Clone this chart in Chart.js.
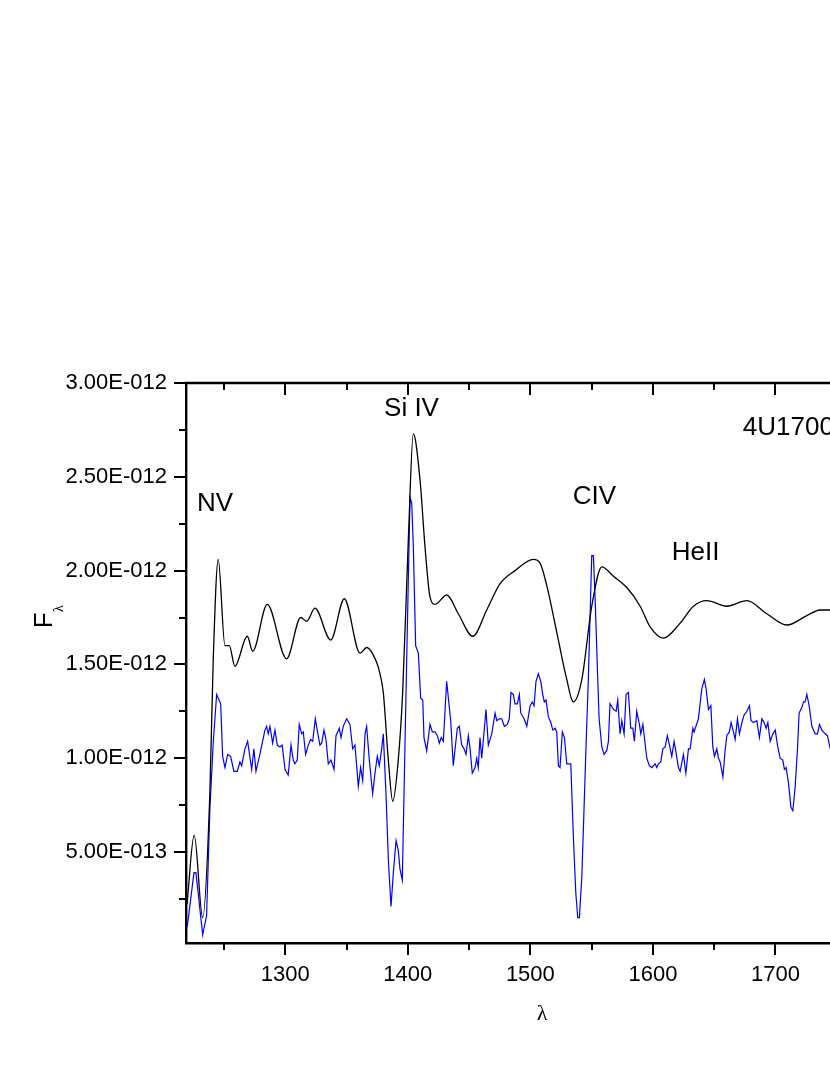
<!DOCTYPE html>
<html>
<head>
<meta charset="utf-8">
<script src="https://cdn.jsdelivr.net/npm/chart.js@4.4.1/dist/chart.umd.min.js"></script>
<style>
  html, body { margin:0; padding:0; background:#fff; overflow:hidden; width:830px; height:1075px; }
  #wrap { position:absolute; left:0; top:0; width:960px; height:1075px; }
</style>
</head>
<body>
<div id="wrap"><canvas id="c" width="960" height="1075"></canvas></div>
<script>
// ---------------- data (flux in units of 1E-12) ----------------
const FLUX_UNIT = 1e-12;
const xRange = [1219, 1800];
const yRange = [0.015, 3.0];
const xTickValues = [1250,1300,1350,1400,1450,1500,1550,1600,1650,1700,1750,1800];
const xTickLabels = ['', '1300', '', '1400', '', '1500', '', '1600', '', '1700', '', '1800'];
const yTickValues = [0.25,0.5,0.75,1.0,1.25,1.5,1.75,2.0,2.25,2.5,2.75,3.0];
const yTickLabels = ['', '5.00E-013', '', '1.00E-012', '', '1.50E-012', '', '2.00E-012', '', '2.50E-012', '', '3.00E-012'];

// smoothed spectrum (black) : [wavelength, flux]
const blackSpectrum = [
 [1219.8,0.22],[1225.7,0.59],[1232.6,0.15],[1238.5,0.82],[1241.2,1.52],[1245.3,2.06],[1250.8,1.60],[1254.3,1.60],
 [1258.9,1.49],[1269.0,1.65],[1273.4,1.57],[1285.3,1.82],[1301.1,1.53],[1312.6,1.75],[1317.5,1.73],[1324.2,1.80],
 [1337.1,1.63],[1348.2,1.85],[1361.0,1.56],[1366.4,1.59],[1374.6,1.51],[1377.3,1.45],[1380.0,1.35],[1384.1,0.99],
 [1387.7,0.77],[1392.2,0.99],[1395.8,1.35],[1400.4,2.16],[1404.5,2.73],[1410.0,2.48],[1414.0,2.13],[1418.1,1.86],
 [1422.2,1.82],[1431.8,1.87],[1441.2,1.77],[1453.0,1.65],[1464.4,1.79],[1475.3,1.93],[1487.5,2.00],[1502.4,2.06],
 [1507.9,2.04],[1513.4,1.92],[1521.6,1.67],[1529.7,1.42],[1535.1,1.30],[1542.0,1.42],[1550.1,1.81],[1558.3,2.02],
 [1567.8,1.97],[1578.7,1.91],[1589.6,1.81],[1597.7,1.70],[1608.6,1.64],[1622.2,1.72],[1633.1,1.81],[1644.0,1.84],
 [1660.3,1.81],[1676.7,1.84],[1693.0,1.77],[1709.3,1.71],[1725.6,1.76],[1736.5,1.79],[1744.7,1.79],[1760.0,1.78]
];

// observed spectrum (blue) : [wavelength, flux]
const blueSpectrum = [
 [1220.0,0.10],[1225.5,0.39],[1227.1,0.39],[1232.6,0.06],[1235.8,0.16],[1238.5,0.73],[1241.2,1.08],[1244.0,1.34],
 [1247.3,1.29],[1248.9,1.01],[1250.8,0.95],[1253.0,1.02],[1255.4,1.01],[1258.1,0.93],[1260.8,0.93],[1263.0,0.98],
 [1264.4,0.96],[1267.1,1.05],[1269.3,1.09],[1272.6,0.94],[1274.4,1.05],[1276.1,0.93],[1279.3,1.02],[1283.4,1.15],
 [1284.8,1.17],[1286.1,1.13],[1287.5,1.17],[1289.7,1.08],[1291.6,1.15],[1293.5,1.07],[1295.7,1.06],[1297.5,1.07],
 [1299.8,0.94],[1302.4,0.91],[1304.7,1.07],[1306.5,0.99],[1307.9,0.97],[1309.8,0.99],[1311.4,1.18],[1313.4,1.13],
 [1314.7,1.14],[1316.6,1.02],[1318.8,1.07],[1320.7,1.10],[1322.4,1.09],[1324.5,1.21],[1326.1,1.15],[1328.3,1.07],
 [1329.7,1.08],[1331.6,1.15],[1333.2,1.10],[1335.1,0.97],[1337.3,0.99],[1339.8,0.94],[1341.4,1.12],[1344.1,1.16],
 [1345.5,1.11],[1347.3,1.17],[1350.1,1.21],[1352.8,1.18],[1355.0,1.05],[1356.9,1.07],[1359.6,0.85],[1361.5,0.95],
 [1363.2,0.88],[1365.1,1.13],[1366.4,1.17],[1368.6,0.99],[1371.3,0.81],[1373.2,0.92],[1375.1,1.01],[1376.7,0.96],
 [1378.7,1.05],[1380.0,1.13],[1382.2,0.81],[1384.1,0.46],[1386.3,0.21],[1388.2,0.39],[1390.4,0.56],[1392.2,0.51],
 [1393.6,0.41],[1395.5,0.35],[1396.9,0.81],[1399.1,1.53],[1401.8,2.39],[1403.2,2.36],[1404.5,2.13],[1406.4,1.60],
 [1408.6,1.56],[1410.5,1.32],[1412.2,1.31],[1413.2,1.11],[1415.4,1.04],[1418.1,1.18],[1420.0,1.14],[1422.2,1.14],
 [1424.1,1.12],[1425.7,1.08],[1427.3,1.11],[1429.0,1.09],[1431.7,1.41],[1435.0,1.20],[1437.1,0.96],[1440.4,1.16],
 [1442.0,1.17],[1444.0,1.07],[1445.9,1.05],[1447.5,1.02],[1449.4,1.12],[1450.8,1.05],[1452.6,0.92],[1454.9,0.95],
 [1456.2,1.00],[1457.5,0.95],[1458.9,1.11],[1460.3,1.00],[1462.2,1.14],[1463.8,1.26],[1465.7,1.07],[1468.5,1.13],
 [1471.2,1.24],[1472.6,1.20],[1474.7,1.21],[1476.6,1.21],[1478.8,1.17],[1481.2,1.18],[1482.8,1.21],[1484.2,1.35],
 [1486.1,1.34],[1487.5,1.29],[1489.4,1.29],[1491.0,1.34],[1492.2,1.24],[1494.9,1.21],[1497.1,1.17],[1499.8,1.28],
 [1501.6,1.30],[1503.0,1.28],[1504.6,1.41],[1506.5,1.45],[1508.5,1.41],[1510.1,1.34],[1511.4,1.30],[1512.8,1.31],
 [1514.7,1.22],[1516.7,1.19],[1518.3,1.15],[1520.2,1.16],[1521.5,1.14],[1522.9,0.96],[1524.2,0.95],[1526.1,1.14],
 [1527.8,1.11],[1529.7,0.97],[1533.0,0.97],[1535.1,0.58],[1537.1,0.28],[1538.7,0.15],[1540.0,0.15],[1542.0,0.37],
 [1543.8,0.73],[1545.5,1.08],[1547.3,1.42],[1550.1,2.08],[1551.4,2.08],[1552.8,1.86],[1555.0,1.42],[1556.1,1.21],
 [1558.3,1.06],[1560.2,1.02],[1562.3,1.04],[1563.7,1.09],[1565.0,1.29],[1567.8,1.26],[1570.0,1.25],[1571.3,1.31],
 [1573.2,1.13],[1574.6,1.20],[1576.5,1.13],[1578.1,1.34],[1580.0,1.35],[1581.9,1.16],[1583.6,1.16],[1584.9,1.09],
 [1586.8,1.25],[1589.0,1.18],[1590.1,1.13],[1591.8,1.18],[1593.6,1.08],[1595.0,1.00],[1597.1,0.96],[1599.1,0.95],
 [1601.8,0.97],[1603.2,0.95],[1604.5,0.97],[1606.4,0.98],[1608.1,1.05],[1610.0,1.06],[1611.8,1.12],[1613.5,1.07],
 [1615.4,1.01],[1617.3,1.09],[1618.9,1.03],[1620.8,0.95],[1622.2,0.93],[1624.9,1.02],[1626.9,0.92],[1629.0,1.05],
 [1630.4,1.05],[1632.6,1.16],[1633.6,1.14],[1637.1,1.21],[1639.9,1.37],[1642.0,1.42],[1643.4,1.37],[1645.3,1.26],
 [1647.3,1.28],[1648.9,1.06],[1650.2,1.01],[1652.1,1.05],[1653.5,1.00],[1654.9,0.98],[1657.1,0.90],[1658.9,1.04],
 [1660.3,1.12],[1662.4,1.14],[1663.8,1.19],[1665.7,1.14],[1667.1,1.10],[1669.0,1.21],[1670.6,1.13],[1672.6,1.19],
 [1674.4,1.23],[1676.7,1.25],[1678.8,1.28],[1680.1,1.20],[1682.0,1.19],[1684.8,1.20],[1686.9,1.11],[1688.9,1.21],
 [1690.8,1.19],[1692.4,1.16],[1693.8,1.19],[1695.7,1.09],[1697.9,1.13],[1699.8,1.15],[1701.9,1.06],[1703.8,1.00],
 [1706.0,0.99],[1707.3,0.94],[1708.7,0.95],[1710.6,0.87],[1712.6,0.74],[1714.2,0.72],[1716.1,0.85],[1718.0,1.05],
 [1719.3,1.24],[1721.5,1.27],[1722.9,1.30],[1724.2,1.30],[1725.6,1.34],[1727.5,1.28],[1729.7,1.17],[1732.4,1.13],
 [1734.3,1.13],[1735.9,1.18],[1737.9,1.15],[1740.6,1.13],[1742.4,1.12],[1744.7,1.05],[1753.0,1.03]
];

// line labels : [text, wavelength, flux]
const lineLabels = [
 ['NV', 1227.9, 2.357],
 ['Si IV', 1380.6, 2.860],
 ['CIV', 1534.6, 2.392],
 ['HeII', 1615.4, 2.096],
 ['4U1700-37', 1673.4, 2.763],
];
const xTitle = 'λ';
const yTitleMain = 'F';
const yTitleSub = 'λ';

// ---------------- chart ----------------
const toXY = arr => arr.map(([l, f]) => ({ x: l, y: f * FLUX_UNIT }));

const frame = {
  id: 'frame',
  afterDraw(chart) {
    const { ctx, chartArea: a, scales: { x, y } } = chart;
    ctx.save();
    ctx.strokeStyle = '#000';
    ctx.lineCap = 'butt';
    const seg = (x1, y1, x2, y2) => { ctx.beginPath(); ctx.moveTo(x1, y1); ctx.lineTo(x2, y2); ctx.stroke(); };
    // top & right frame lines
    ctx.lineWidth = 2.4;
    seg(a.left - 1.2, a.top, a.right + 1.2, a.top);
    seg(a.right, a.top, a.right, a.bottom);
    // tick marks
    ctx.lineWidth = 2;
    xTickValues.forEach((v, i) => {
      const px = Math.round(x.getPixelForValue(v));
      const len = xTickLabels[i] !== '' ? 12 : 7;
      seg(px, a.bottom, px, a.bottom + len);
      seg(px, a.top, px, a.top + len);
    });
    yTickValues.forEach((v, i) => {
      const py = Math.round(y.getPixelForValue(v * FLUX_UNIT));
      const len = yTickLabels[i] !== '' ? 12 : 7;
      seg(a.left, py, a.left - len, py);
      seg(a.right, py, a.right - len, py);
    });
    // annotations
    ctx.fillStyle = '#000';
    ctx.textAlign = 'left';
    ctx.textBaseline = 'middle';
    ctx.font = '26px "Liberation Sans", Arial, sans-serif';
    lineLabels.forEach(([t, l, f]) => {
      ctx.fillText(t, x.getPixelForValue(l), y.getPixelForValue(f * FLUX_UNIT));
    });
    // x title
    ctx.textAlign = 'center';
    ctx.textBaseline = 'alphabetic';
    ctx.font = '22px "Liberation Serif", "Times New Roman", serif';
    ctx.fillText(xTitle, (a.left + a.right) / 2, 1020);
    // y title (rotated)
    ctx.save();
    ctx.translate(51.7, 628.3);
    ctx.rotate(-Math.PI / 2);
    ctx.textAlign = 'left';
    ctx.font = '26px "Liberation Sans", Arial, sans-serif';
    ctx.fillText(yTitleMain, 0, 0);
    const w = ctx.measureText(yTitleMain).width;
    ctx.font = '14px "Liberation Serif", "Times New Roman", serif';
    ctx.fillText(yTitleSub, w + 0.5, 11.5);
    ctx.restore();
    ctx.restore();
  }
};

new Chart(document.getElementById('c'), {
  type: 'line',
  data: {
    datasets: [
      {
        label: 'model',
        data: toXY(blackSpectrum),
        borderColor: '#000000',
        borderWidth: 1.3,
        pointRadius: 0,
        cubicInterpolationMode: 'monotone',
        fill: false,
      },
      {
        label: 'observed',
        data: toXY(blueSpectrum),
        borderColor: '#0000ff',
        borderWidth: 1.2,
        pointRadius: 0,
        tension: 0,
        fill: false,
      }
    ]
  },
  options: {
    responsive: false,
    animation: false,
    devicePixelRatio: 1,
    layout: { padding: { left: 0, top: 383, right: 62, bottom: 0 } },
    plugins: { legend: { display: false }, tooltip: { enabled: false } },
    scales: {
      x: {
        type: 'linear',
        min: xRange[0], max: xRange[1],
        afterBuildTicks: s => { s.ticks = xTickValues.map(v => ({ value: v })); },
        afterFit: s => { s.height = 132; },
        grid: { display: false, drawTicks: false },
        border: { display: true, color: '#000', width: 2.4 },
        ticks: {
          autoSkip: false, maxRotation: 0, padding: 19, color: '#000',
          font: { family: '"Liberation Sans", Arial, sans-serif', size: 22 },
          callback: (v, i) => xTickLabels[i]
        }
      },
      y: {
        type: 'linear',
        min: yRange[0] * FLUX_UNIT, max: yRange[1] * FLUX_UNIT,
        afterBuildTicks: s => { s.ticks = yTickValues.map(v => ({ value: v * FLUX_UNIT })); },
        afterFit: s => { s.width = 186; },
        grid: { display: false, drawTicks: false },
        border: { display: true, color: '#000', width: 2.4 },
        ticks: {
          autoSkip: false, padding: 19, color: '#000',
          font: { family: '"Liberation Sans", Arial, sans-serif', size: 22 },
          callback: (v, i) => yTickLabels[i]
        }
      }
    }
  },
  plugins: [frame]
});
</script>
</body>
</html>
